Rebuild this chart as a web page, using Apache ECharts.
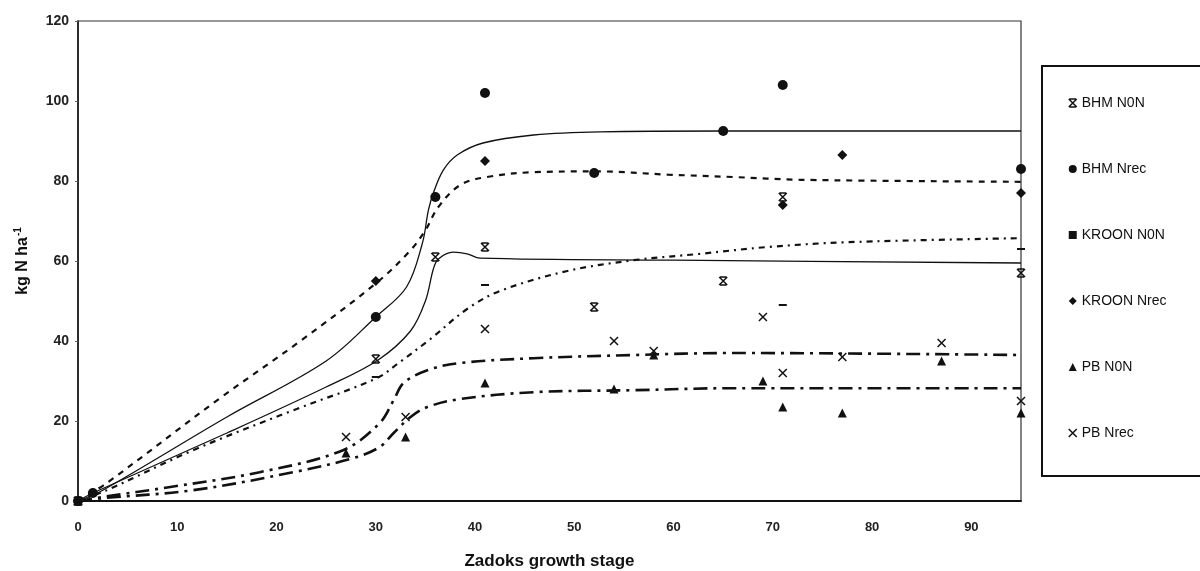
<!DOCTYPE html>
<html>
<head>
<meta charset="utf-8">
<script src="https://cdn.jsdelivr.net/npm/echarts@6/dist/echarts.min.js"></script>
<style>
  html, body { margin: 0; padding: 0; background: #fff; }
  #chart { width: 1200px; height: 571px; }
</style>
</head>
<body>
<div id="chart"></div>
<script>
// Measured N uptake (kg N/ha) at Zadoks growth stages: [stage, value]
const bhmNon   = [[0,0],[30,35.5],[36,61],[41,63.5],[52,48.5],[65,55],[71,76],[95,57]];
const bhmNrec  = [[0,0],[1.5,2],[30,46],[36,76],[41,102],[52,82],[65,92.5],[71,104],[95,83]];
const kroonNon = [[0,0],[30,31],[41,54],[71,49],[95,63]];
const kroonNrec= [[0,0],[1.5,2],[30,55],[36,76],[41,85],[71,74],[77,86.5],[95,77]];
const pbNon    = [[0,0],[27,12],[33,16],[41,29.5],[54,28],[58,36.5],[69,30],[71,23.5],[77,22],[87,35],[95,22]];
const pbNrec   = [[0,0],[27,16],[33,21],[41,43],[54,40],[58,37.5],[69,46],[71,32],[77,36],[87,39.5],[95,25]];

// Fitted curves
const fitBhmNrec = [[0,0],[2.5,2.7],[15,21],[25,35],[30,46],[33.1,53.5],[34.7,64.5],[35.3,72.7],[35.8,77],[36.8,82.7],[38.2,86.5],[40.8,89.5],[45.9,91.5],[52.6,92.3],[65,92.5],[95,92.5]];
const fitKroonNrec = [[0,0],[2.9,4.5],[14.3,25.7],[22.4,40],[30.3,55],[33.5,62.7],[35,67.7],[36.3,73.5],[38.5,79],[41.2,81],[45.9,82.2],[52.3,82.4],[59.4,81.6],[66,81],[72.8,80.3],[95,79.8]];
const fitBhmNon = [[0,0],[1.5,2],[15,17],[25,28.5],[30.2,35.2],[33.5,42.5],[35,50],[35.8,58],[36.3,60.5],[37.8,62.2],[39.2,61.8],[40.5,60.7],[60,60.2],[95,59.5]];
const fitKroonNon = [[0,0],[2.9,2.7],[11.6,12.7],[21.7,22.7],[30.1,30.7],[32.4,34.7],[35.5,40.5],[39.2,48],[42.5,52.5],[49.3,57.5],[56,60.2],[62.7,61.8],[69.5,63.5],[77.5,64.7],[95,65.7]];
const fitPbNrec = [[0,0],[2.5,1],[9.3,3.5],[18.3,7.2],[26.7,12.7],[30.4,19.5],[31.8,25.2],[32.8,29.5],[35.2,32.7],[38.5,34.5],[45.9,35.7],[56,36.5],[66,37],[95,36.5]];
const fitPbNon = [[0,0],[2.5,0.7],[11.6,2.7],[21.7,7.2],[27.7,10.7],[30.4,13.5],[31.8,17],[33.5,21],[35.2,23.5],[38.5,25.5],[45.9,27.2],[56,27.7],[66,28.2],[95,28.2]];

const FONT = '"Liberation Sans", Arial, sans-serif';
const INK = '#111';

// star marker: X with short bars top and bottom
const starPath = 'path://M0,0 L10,10 M10,0 L0,10 M1,0 L9,0 M1,10 L9,10';
const crossPath = 'path://M0,0 L10,10 M10,0 L0,10';

function scatter(name, data, symbol, size, stroked) {
  return {
    name, type: 'scatter', data, symbol, symbolSize: size, z: 5,
    itemStyle: stroked
      ? { color: 'rgba(0,0,0,0)', borderColor: INK, borderWidth: 1.5, opacity: 1 }
      : { color: INK, opacity: 1 },
    emphasis: { disabled: true }
  };
}
function fit(data, width, dash) {
  return {
    type: 'line', data, smooth: 0.35, showSymbol: false, symbol: 'none', z: 3,
    lineStyle: { color: INK, width, type: dash },
    emphasis: { disabled: true }, silent: true
  };
}

const chart = echarts.init(document.getElementById('chart'));
chart.setOption({
  animation: false,
  backgroundColor: '#fff',
  grid: {
    left: 78, right: 179, top: 21, bottom: 70,
    outerBoundsMode: 'none', containLabel: false,
    show: true, borderColor: '#333', borderWidth: 1.2
  },
  xAxis: {
    type: 'value', min: 0, max: 95, interval: 10,
    name: 'Zadoks growth stage', nameLocation: 'middle', nameGap: 52,
    nameTextStyle: { fontFamily: FONT, fontSize: 17, fontWeight: 'bold', color: INK },
    axisLine: { show: true, lineStyle: { color: INK, width: 1.8 } },
    axisTick: { show: false },
    axisLabel: { fontFamily: FONT, fontSize: 13, fontWeight: 'bold', color: '#222', margin: 20, showMaxLabel: false },
    splitLine: { show: false }
  },
  yAxis: {
    type: 'value', min: 0, max: 120, interval: 20,
    name: 'kg N ha{sup|-1}', nameLocation: 'middle', nameGap: 46, nameRotate: 90,
    nameTextStyle: {
      fontFamily: FONT, fontSize: 16, fontWeight: 'bold', color: INK,
      rich: { sup: { fontFamily: FONT, fontSize: 10, fontWeight: 'bold', color: INK, verticalAlign: 'top', padding: [0,0,9,1] } }
    },
    axisLine: { show: true, lineStyle: { color: INK, width: 1.5 } },
    axisTick: { show: true, length: 3, lineStyle: { color: '#666' } },
    axisLabel: { fontFamily: FONT, fontSize: 14, fontWeight: 'bold', color: '#222', margin: 9 },
    splitLine: { show: false }
  },
  legend: {
    orient: 'vertical', left: 1042, top: 66,
    itemGap: 52, itemWidth: 8, itemHeight: 8,
    padding: [30, 80, 36, 26],
    borderColor: '#111', borderWidth: 2,
    textStyle: { fontFamily: FONT, fontSize: 14, color: INK },
    itemStyle: { borderWidth: 'inherit' },
    data: ['BHM N0N', 'BHM Nrec', 'KROON N0N', 'KROON Nrec', 'PB N0N', 'PB Nrec'],
    selectedMode: false
  },
  series: [
    fit(fitBhmNrec, 1.3, 'solid'),
    fit(fitKroonNrec, 2.2, [6, 6]),
    fit(fitBhmNon, 1.3, 'solid'),
    fit(fitKroonNon, 2.2, [6, 5, 2, 5]),
    fit(fitPbNrec, 2.6, [14, 6, 3, 6]),
    fit(fitPbNon, 2.6, [14, 6, 3, 6]),
    scatter('BHM N0N', bhmNon, starPath, 8, true),
    scatter('BHM Nrec', bhmNrec, 'circle', 10, false),
    scatter('KROON N0N', kroonNon, 'rect', [8, 2], false),
    scatter('KROON Nrec', kroonNrec, 'diamond', 10, false),
    scatter('PB N0N', pbNon, 'triangle', 9, false),
    scatter('PB Nrec', pbNrec, crossPath, 8, true)
  ]
});
</script>
</body>
</html>
